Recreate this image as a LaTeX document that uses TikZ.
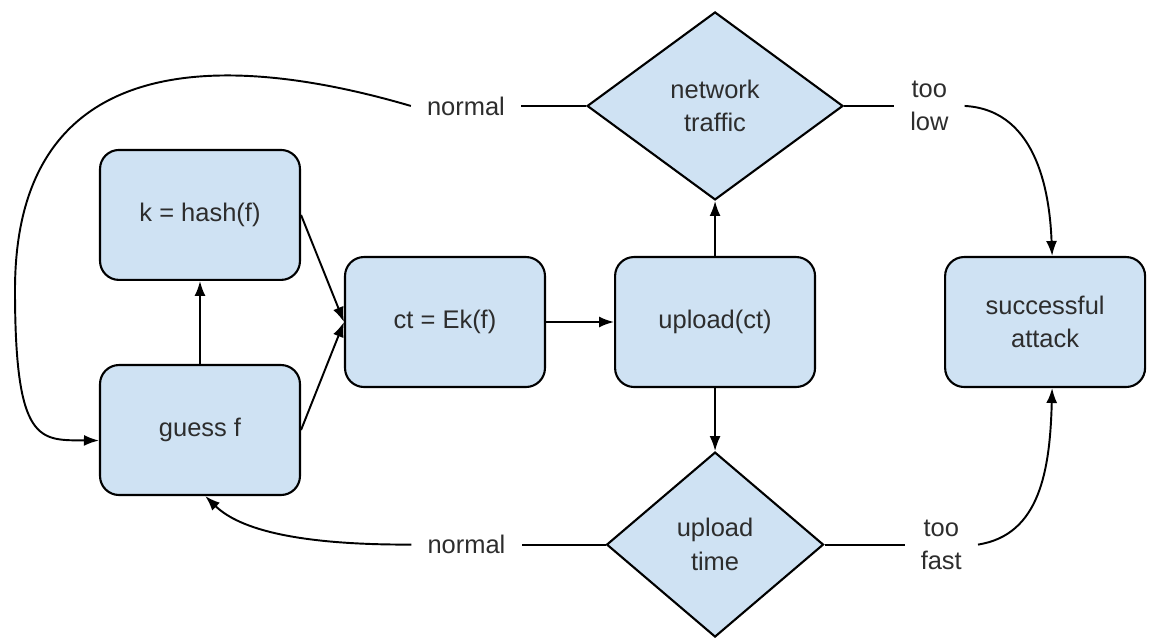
\documentclass[tikz,border=0pt]{standalone}
\usepackage{fontspec}
\setmainfont{Liberation Sans}
\usetikzlibrary{arrows.meta,positioning,shapes.geometric}
\definecolor{boxBlue}{RGB}{207,226,243}
\definecolor{txtGray}{RGB}{45,45,45}

\begin{document}
\begin{tikzpicture}[x=0.02cm,y=-0.02cm,
    box/.style={draw,fill=boxBlue,line width=1.2pt,rounded corners=0.38cm,align=center,text=txtGray,
      font=\fontsize{14.5}{19}\selectfont,minimum width=4cm,minimum height=2.6cm},
    cond/.style={diamond,draw,fill=boxBlue,line width=1.2pt,align=center,inner sep=0pt,text=txtGray,
      font=\fontsize{14.5}{19}\selectfont},
    lbl/.style={align=center,text=txtGray,font=\fontsize{14.5}{19}\selectfont,inner xsep=9pt},
    conn/.style={line width=1.1pt},
    arrow/.style={-{Latex[length=3mm,width=2.2mm]},line width=1.1pt}
  ]
    \useasboundingbox (0,0) rectangle (1155,637);
    \node[box] (guess) at (200,430) {guess f};
    \node[box,above=1.66cm of guess] (hash) {k = hash(f)};
    \node[box] (ct) at (445,322) {ct = Ek(f)};
    \node[box,right=1.36cm of ct] (up) {upload(ct)};
    \node[box,right=2.56cm of up] (win) {successful\\attack};
    \node[cond,minimum width=5.12cm,minimum height=3.76cm,above=1.1cm of up] (net) {network\\traffic};
    \node[cond,minimum width=4.34cm,minimum height=3.7cm,below=1.26cm of up] (ut) {upload\\time};
    \node[lbl,left=1.3cm of net] (nrmTop) {normal};
    \node[lbl,left=1.68cm of ut] (nrmBot) {normal};
    \node[lbl,right=1cm of net] (tooLow) {too\\low};
    \node[lbl,right=1.6cm of ut] (tooFast) {too\\fast};
    % forward flow
    \draw[arrow] (guess) -- (hash);
    \draw[arrow] (hash.east) -- (ct.west);
    \draw[arrow] (guess.east) -- (ct.west);
    \draw[arrow] (ct) -- (up);
    \draw[arrow] (up) -- (net);
    \draw[arrow] (up) -- (ut);
    % decisions
    \draw[conn] (net) -- (nrmTop);
    \draw[conn] (net) -- (tooLow);
    \draw[conn] (ut) -- (nrmBot);
    \draw[conn] (ut) -- (tooFast);
    \draw[arrow] (nrmTop.west) .. controls (220,50) and (15,50) .. (15,290)
      .. controls (15,445) and (40,440) .. ([yshift=-6pt]guess.west);
    \draw[arrow] (nrmBot.west) .. controls (300,545) and (240,530) .. ([xshift=3pt]guess.south);
    \draw[arrow] (tooLow.east) .. controls (1040,110) and (1050,200) .. ([xshift=4pt]win.north);
    \draw[arrow] (tooFast.east) .. controls (1040,535) and (1050,470) .. ([xshift=4pt]win.south);
\end{tikzpicture}
\end{document}
